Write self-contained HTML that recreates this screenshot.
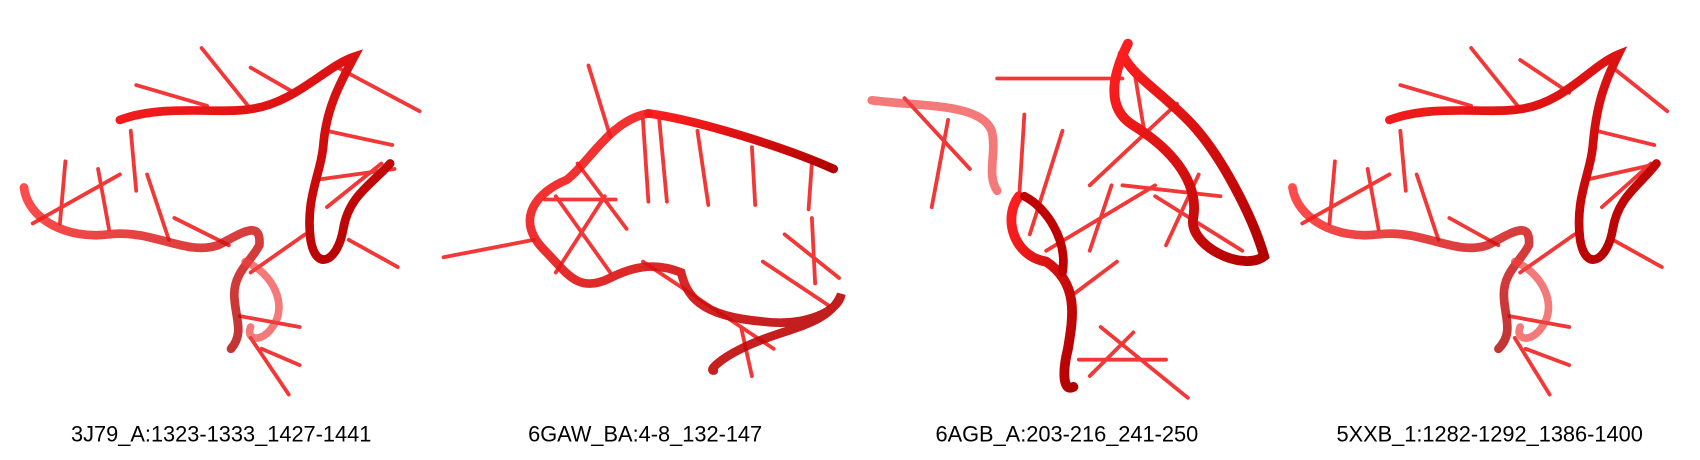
<!DOCTYPE html>
<html><head><meta charset="utf-8"><style>
body{margin:0;background:#fff;width:1700px;height:460px;overflow:hidden}
svg{display:block}
text{font-family:"Liberation Sans",sans-serif;font-size:20px;fill:#000}
</style></head><body>
<svg width="1700" height="460" viewBox="0 0 1560 422">
<defs>
<linearGradient id="g" x1="0" y1="0" x2="1" y2="1"><stop offset="0" stop-color="#ff2020"/><stop offset="1" stop-color="#b00000"/></linearGradient>
</defs>
<g fill="none" stroke-linecap="round">
<g stroke="#f01515" stroke-width="3.5" opacity="0.85">
<line x1="185" y1="44" x2="230" y2="100"/><line x1="125" y1="78" x2="190" y2="97"/><line x1="230" y1="62" x2="270" y2="85"/><line x1="310" y1="62" x2="385" y2="102"/><line x1="300" y1="120" x2="360" y2="133"/><line x1="290" y1="165" x2="362" y2="155"/><line x1="120" y1="120" x2="125" y2="175"/><line x1="60" y1="148" x2="55" y2="205"/><line x1="90" y1="155" x2="100" y2="210"/><line x1="135" y1="160" x2="155" y2="220"/><line x1="30" y1="205" x2="110" y2="160"/><line x1="160" y1="200" x2="210" y2="225"/><line x1="230" y1="250" x2="280" y2="215"/><line x1="220" y1="290" x2="275" y2="300"/><line x1="230" y1="310" x2="265" y2="362"/><line x1="240" y1="320" x2="275" y2="335"/><line x1="300" y1="190" x2="350" y2="150"/><line x1="320" y1="220" x2="365" y2="245"/>
</g>
<path d="M22 172 C25 200 60 220 100 215 C140 210 170 235 200 225 C220 215 240 200 238 225 C230 240 215 250 215 270 C215 290 225 305 212 320" stroke="url(#g)" stroke-width="8" opacity="0.8"/>
<path d="M110 110 C150 95 200 105 230 100 C270 95 300 60 325 52 C310 80 300 100 297 130 C295 160 280 180 285 220 C290 250 310 240 315 210 C320 180 340 170 358 150" stroke="url(#g)" stroke-width="8"/>
<path d="M225 240 C250 250 265 280 250 300 C240 315 225 312 230 300" stroke="#f04040" stroke-width="7" opacity="0.7"/>
</g>
<g fill="none" stroke-linecap="round">
<g stroke="#f01515" stroke-width="3.5" opacity="0.85">
<line x1="540" y1="60" x2="560" y2="125"/><line x1="590" y1="110" x2="595" y2="185"/><line x1="605" y1="110" x2="612" y2="185"/><line x1="640" y1="120" x2="650" y2="188"/><line x1="690" y1="135" x2="693" y2="188"/><line x1="745" y1="150" x2="742" y2="192"/><line x1="407" y1="236" x2="490" y2="220"/><line x1="510" y1="180" x2="560" y2="250"/><line x1="555" y1="180" x2="510" y2="250"/><line x1="500" y1="183" x2="565" y2="183"/><line x1="530" y1="150" x2="575" y2="210"/><line x1="700" y1="240" x2="760" y2="280"/><line x1="720" y1="215" x2="770" y2="255"/><line x1="745" y1="200" x2="748" y2="260"/><line x1="590" y1="240" x2="710" y2="320"/><line x1="680" y1="300" x2="690" y2="345"/>
</g>
<path d="M595 104 C640 110 720 135 765 155" stroke="url(#g)" stroke-width="8"/>
<path d="M595 104 C560 110 540 150 520 165 C495 175 470 200 500 230 C520 250 530 270 560 255 C580 245 600 240 625 250 C630 270 640 290 700 295 C740 300 770 285 772 270 C760 300 720 300 680 320 C660 330 650 340 655 340" stroke="url(#g)" stroke-width="8" opacity="0.9"/>
</g>
<g fill="none" stroke-linecap="round">
<g stroke="#f01515" stroke-width="3.5" opacity="0.85">
<line x1="915" y1="72" x2="1030" y2="72"/><line x1="830" y1="90" x2="890" y2="155"/><line x1="870" y1="110" x2="855" y2="190"/><line x1="940" y1="105" x2="935" y2="185"/><line x1="975" y1="120" x2="945" y2="215"/><line x1="1040" y1="60" x2="1050" y2="120"/><line x1="1080" y1="95" x2="1000" y2="170"/><line x1="1030" y1="170" x2="1120" y2="180"/><line x1="1060" y1="180" x2="1140" y2="230"/><line x1="960" y1="230" x2="1060" y2="170"/><line x1="1000" y1="230" x2="1020" y2="170"/><line x1="1070" y1="225" x2="1100" y2="160"/><line x1="985" y1="270" x2="1025" y2="240"/><line x1="990" y1="330" x2="1070" y2="330"/><line x1="1010" y1="300" x2="1090" y2="365"/><line x1="1000" y1="345" x2="1040" y2="305"/>
</g>
<path d="M800 92 C850 98 900 95 910 120 C915 140 905 160 915 175" stroke="#f04040" stroke-width="8" opacity="0.7"/>
<path d="M1035 40 C1020 70 1015 100 1040 115 C1080 140 1100 170 1095 200 C1090 225 1140 250 1160 235 C1150 200 1120 140 1090 110 C1060 80 1040 70 1030 50" stroke="url(#g)" stroke-width="9"/>
<path d="M935 180 C920 200 930 235 960 240 C990 260 985 290 980 320 C975 340 975 360 985 355" stroke="url(#g)" stroke-width="9"/>
<path d="M940 180 C960 190 980 220 975 250" stroke="#c00000" stroke-width="8"/>
</g>
<g fill="none" stroke-linecap="round">
<g stroke="#f01515" stroke-width="3.5" opacity="0.85">
<line x1="1350" y1="44" x2="1395" y2="100"/><line x1="1285" y1="78" x2="1350" y2="97"/><line x1="1395" y1="55" x2="1440" y2="85"/><line x1="1480" y1="62" x2="1530" y2="102"/><line x1="1465" y1="120" x2="1518" y2="133"/><line x1="1455" y1="165" x2="1522" y2="150"/><line x1="1285" y1="120" x2="1290" y2="175"/><line x1="1225" y1="148" x2="1220" y2="205"/><line x1="1255" y1="155" x2="1265" y2="210"/><line x1="1300" y1="160" x2="1320" y2="220"/><line x1="1195" y1="205" x2="1275" y2="160"/><line x1="1330" y1="200" x2="1375" y2="225"/><line x1="1395" y1="250" x2="1445" y2="215"/><line x1="1385" y1="290" x2="1440" y2="300"/><line x1="1390" y1="310" x2="1422" y2="362"/><line x1="1400" y1="320" x2="1440" y2="335"/><line x1="1470" y1="190" x2="1515" y2="150"/><line x1="1480" y1="220" x2="1525" y2="245"/>
</g>
<path d="M1186 172 C1190 200 1225 220 1265 215 C1305 210 1335 235 1365 225 C1385 215 1405 200 1403 225 C1395 240 1380 250 1380 270 C1380 290 1390 305 1375 320" stroke="url(#g)" stroke-width="8" opacity="0.8"/>
<path d="M1275 110 C1315 95 1365 105 1395 100 C1435 95 1460 60 1485 50 C1470 80 1465 100 1462 130 C1460 160 1445 180 1450 220 C1455 250 1475 240 1480 210 C1485 180 1505 170 1520 150" stroke="url(#g)" stroke-width="8"/>
<path d="M1390 240 C1415 250 1430 280 1415 300 C1405 315 1390 312 1395 300" stroke="#f04040" stroke-width="7" opacity="0.7"/>
</g>
<text x="203" y="405" text-anchor="middle">3J79_A:1323-1333_1427-1441</text>
<text x="592" y="405" text-anchor="middle">6GAW_BA:4-8_132-147</text>
<text x="979" y="405" text-anchor="middle">6AGB_A:203-216_241-250</text>
<text x="1367" y="405" text-anchor="middle">5XXB_1:1282-1292_1386-1400</text>
</svg>
</body></html>
